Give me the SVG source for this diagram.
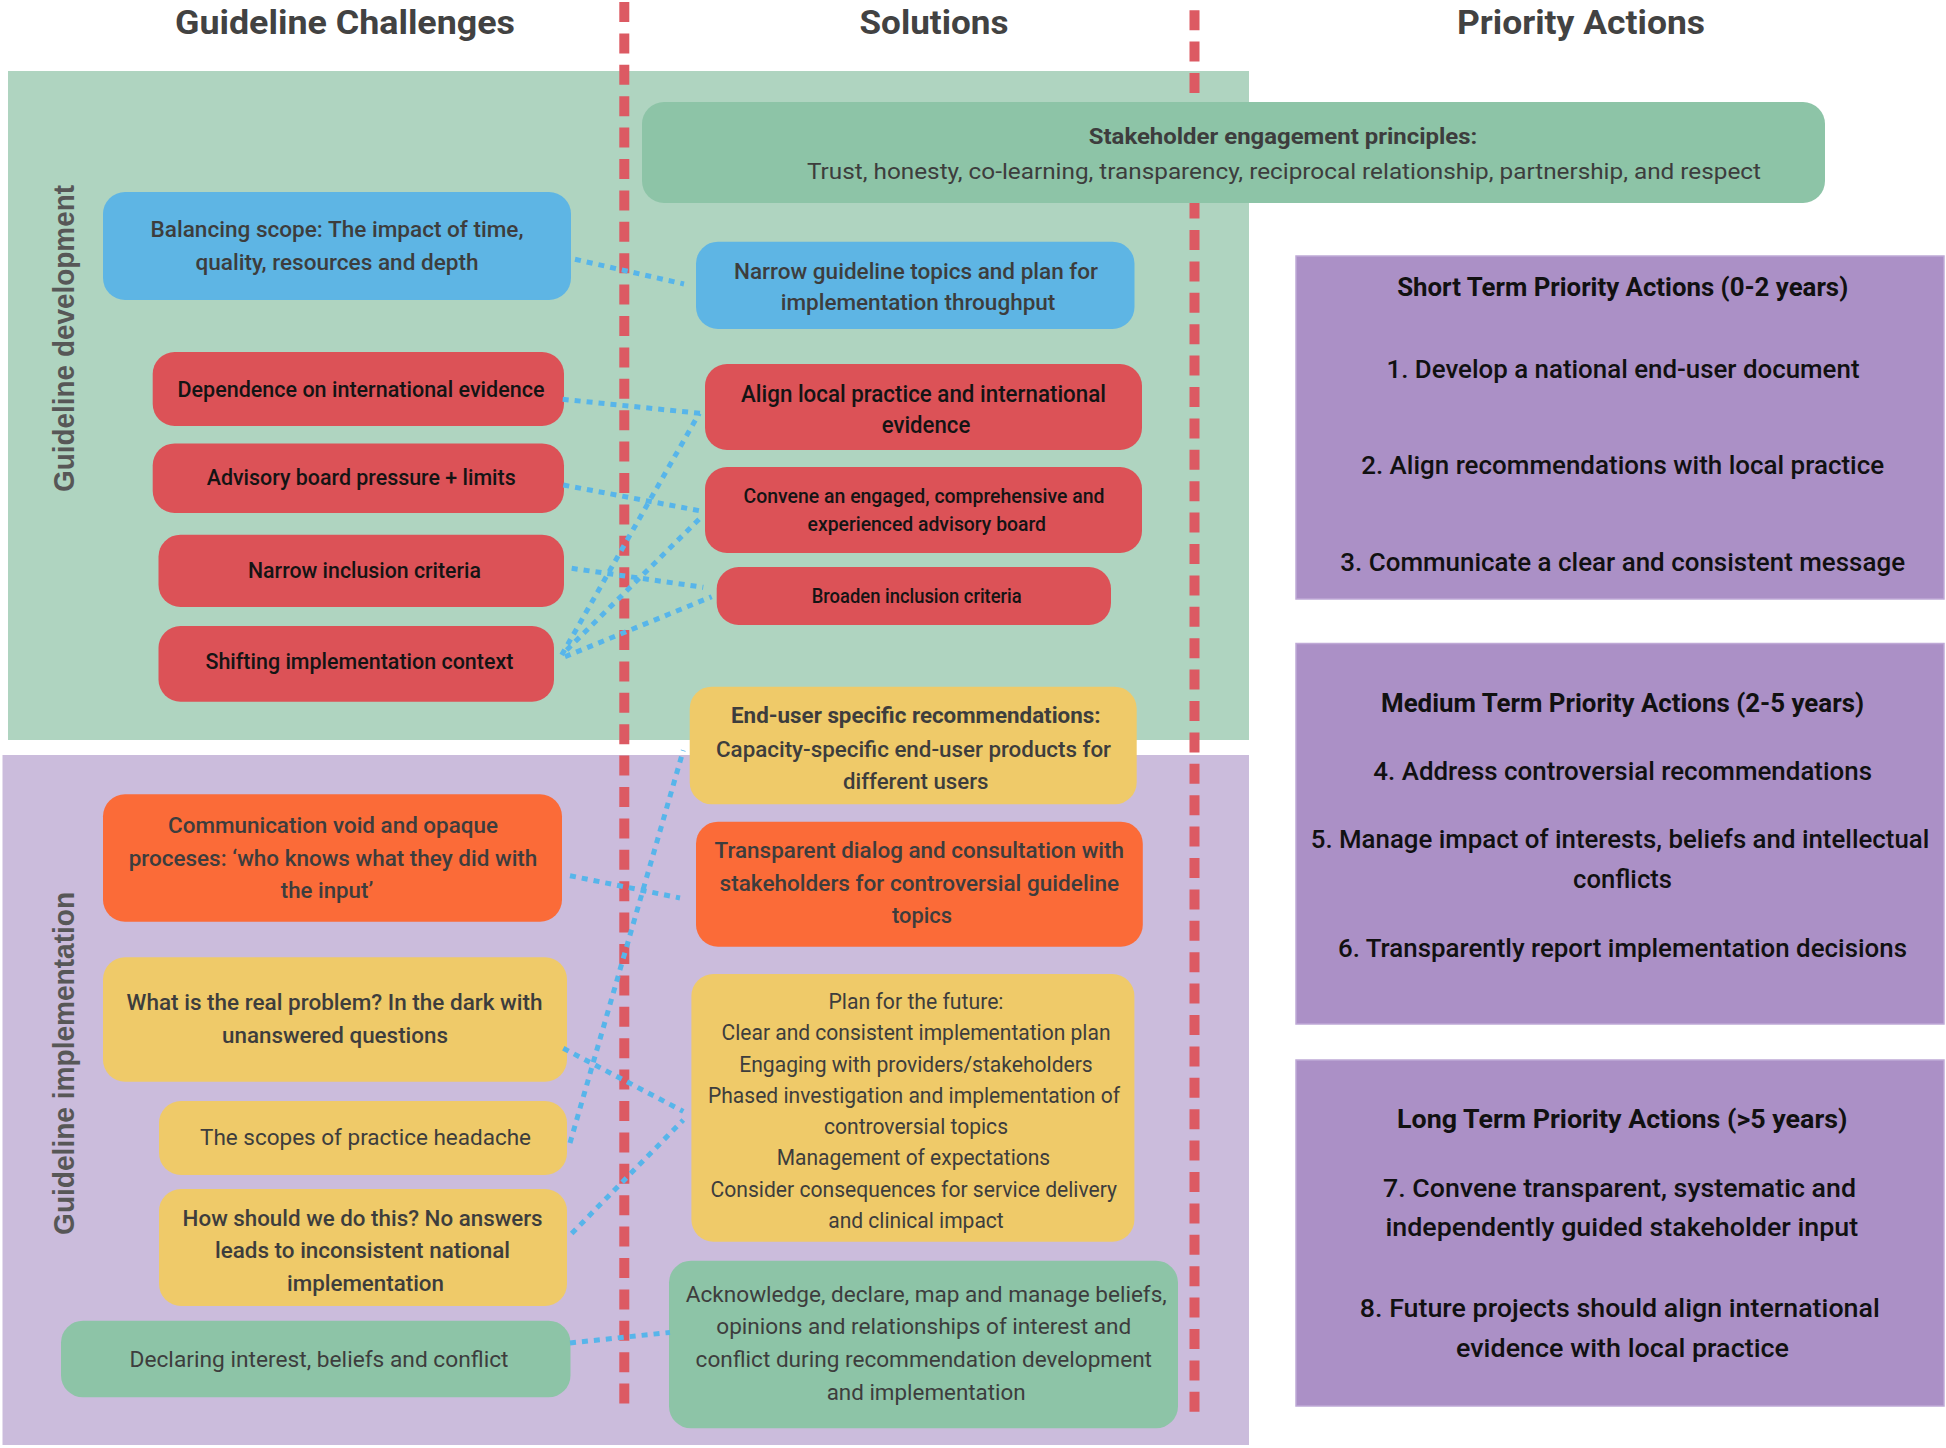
<svg xmlns="http://www.w3.org/2000/svg" width="1946" height="1448" viewBox="0 0 1946 1448">
<style>
  .hdr{font-family:Roboto,"Liberation Sans",sans-serif;font-weight:700;font-size:34px;fill:#424242;text-anchor:middle}
  .side{font-family:"Liberation Sans",Arial,sans-serif;font-weight:700;font-size:30px;fill:#575757;text-anchor:middle}
  .t{font-family:Roboto,"Liberation Sans",sans-serif;font-size:22.5px;font-weight:500;fill:#3d3d3d;text-anchor:middle}
  .k{fill:#141414}
  .r{font-weight:400}
  .b{font-weight:700}
  .p{font-size:26.5px;fill:#111}
  .pt{font-size:25.5px;font-weight:700;fill:#111}
  .blue{fill:#5eb5e4}
  .red{fill:#dc5257}
  .orange{fill:#fb6b38}
  .yellow{fill:#efca69}
  .green{fill:#8dc4a7}
  .prio{fill:#ab90c6;stroke:#bfa9d6;stroke-width:1.5}
  .divider{stroke:#dc5a63;stroke-width:10;stroke-dasharray:20 11.4;fill:none}
  .conn{fill:none;stroke:#57b5ea;stroke-width:5;stroke-dasharray:6 6}
</style>
<defs>
  <clipPath id="clipHow"><rect x="159" y="1189" width="408" height="115" rx="22"/></clipPath>
  <clipPath id="clipPlan"><rect x="691.4" y="974" width="443" height="265.5" rx="22"/></clipPath>
</defs>
<rect x="0" y="0" width="1946" height="1448" fill="#ffffff"/>

<g id="bands">
  <rect x="8" y="71" width="1241" height="669" fill="#afd4c0"/>
  <rect x="2.5" y="755" width="1246.5" height="690" fill="#cbbcdc"/>
</g>

<g id="headers">
  <text class="hdr" x="345" y="33.5" textLength="340" lengthAdjust="spacingAndGlyphs">Guideline Challenges</text>
  <text class="hdr" x="934" y="33.5" textLength="149" lengthAdjust="spacingAndGlyphs">Solutions</text>
  <text class="hdr" x="1581" y="33.5" textLength="248" lengthAdjust="spacingAndGlyphs">Priority Actions</text>
  <text class="side" transform="translate(74,338.5) rotate(-90)" textLength="307" lengthAdjust="spacingAndGlyphs">Guideline development</text>
  <text class="side" transform="translate(74,1063.4) rotate(-90)" textLength="343" lengthAdjust="spacingAndGlyphs">Guideline implementation</text>
</g>

<g id="dividers">
  <line class="divider" x1="624.3" y1="2" x2="624.3" y2="1404"/>
  <line class="divider" x1="1194.5" y1="10.2" x2="1194.5" y2="1412"/>
</g>

<g id="stakeholder">
  <rect class="green" x="642" y="102" width="1183" height="101" rx="22"/>
  <text class="t b" x="1283" y="143.5" textLength="388.5" lengthAdjust="spacingAndGlyphs">Stakeholder engagement principles:</text>
  <text class="t r" x="1284" y="178.5" textLength="954" lengthAdjust="spacingAndGlyphs">Trust, honesty, co-learning, transparency, reciprocal relationship, partnership, and respect</text>
</g>

<g id="balancing">
  <rect class="blue" x="103" y="192" width="468" height="108" rx="22"/>
  <text class="t" x="337" y="237" textLength="373" lengthAdjust="spacingAndGlyphs">Balancing scope: The impact of time,</text>
  <text class="t" x="337" y="269.5" textLength="283" lengthAdjust="spacingAndGlyphs">quality, resources and depth</text>
</g>
<g id="dependence">
  <rect class="red" x="152.7" y="352" width="411.3" height="74" rx="22"/>
  <text class="t k" x="361" y="397" textLength="367" lengthAdjust="spacingAndGlyphs">Dependence on international evidence</text>
</g>
<g id="advisory">
  <rect class="red" x="152.7" y="443.4" width="411.3" height="69.6" rx="22"/>
  <text class="t k" x="361.2" y="484.8" textLength="309" lengthAdjust="spacingAndGlyphs">Advisory board pressure + limits</text>
</g>
<g id="narrow-inclusion">
  <rect class="red" x="158.5" y="534.7" width="405.5" height="72.3" rx="22"/>
  <text class="t k" x="364.5" y="577.7" textLength="233" lengthAdjust="spacingAndGlyphs">Narrow inclusion criteria</text>
</g>
<g id="shifting">
  <rect class="red" x="158.5" y="626" width="395.5" height="75.7" rx="22"/>
  <text class="t k" x="359.4" y="669" textLength="308" lengthAdjust="spacingAndGlyphs">Shifting implementation context</text>
</g>

<g id="narrow-topics">
  <rect class="blue" x="696" y="241.7" width="438.5" height="87.3" rx="22"/>
  <text class="t" x="916" y="279.3" textLength="364" lengthAdjust="spacingAndGlyphs">Narrow guideline topics and plan for</text>
  <text class="t" x="918" y="310" textLength="274.7" lengthAdjust="spacingAndGlyphs">implementation throughput</text>
</g>
<g id="align">
  <rect class="red" x="705" y="364" width="437" height="86" rx="22"/>
  <text class="t k" x="923.5" y="401.7" textLength="365" lengthAdjust="spacingAndGlyphs" style="font-size:23.5px">Align local practice and international</text>
  <text class="t k" x="926" y="433" textLength="88.6" lengthAdjust="spacingAndGlyphs" style="font-size:23.5px">evidence</text>
</g>
<g id="convene">
  <rect class="red" x="705" y="467" width="437" height="86" rx="22"/>
  <text class="t k" x="924" y="503" textLength="361" lengthAdjust="spacingAndGlyphs" style="font-size:21px">Convene an engaged, comprehensive and</text>
  <text class="t k" x="926.8" y="531" textLength="238.4" lengthAdjust="spacingAndGlyphs" style="font-size:21px">experienced advisory board</text>
</g>
<g id="broaden">
  <rect class="red" x="716.7" y="567" width="394.3" height="58" rx="22"/>
  <text class="t k" x="916.7" y="603" textLength="210" lengthAdjust="spacingAndGlyphs" style="font-size:20.5px">Broaden inclusion criteria</text>
</g>

<g id="communication">
  <rect class="orange" x="103" y="794.3" width="459" height="127.4" rx="22"/>
  <text class="t" x="333" y="833.3" textLength="330" lengthAdjust="spacingAndGlyphs">Communication void and opaque</text>
  <text class="t" x="333" y="865.7" textLength="408.7" lengthAdjust="spacingAndGlyphs">proceses: ‘who knows what they did with</text>
  <text class="t" x="327" y="898.3" textLength="92.4" lengthAdjust="spacingAndGlyphs">the input’</text>
</g>
<g id="real-problem">
  <rect class="yellow" x="103" y="957.3" width="464" height="124.4" rx="22"/>
  <text class="t" x="334.6" y="1010" textLength="416" lengthAdjust="spacingAndGlyphs">What is the real problem? In the dark with</text>
  <text class="t" x="335" y="1042.7" textLength="226" lengthAdjust="spacingAndGlyphs">unanswered questions</text>
</g>
<g id="scopes">
  <rect class="yellow" x="159" y="1101" width="408" height="74" rx="22"/>
  <text class="t r" x="365.5" y="1145" textLength="331" lengthAdjust="spacingAndGlyphs">The scopes of practice headache</text>
</g>
<g id="how-should">
  <rect class="yellow" x="159" y="1189" width="408" height="117" rx="22"/>
  <g clip-path="url(#clipHow)">
    <text class="t" x="362.6" y="1226" textLength="360" lengthAdjust="spacingAndGlyphs">How should we do this? No answers</text>
    <text class="t" x="362.5" y="1258.3" textLength="295" lengthAdjust="spacingAndGlyphs">leads to inconsistent national</text>
    <text class="t" x="365.5" y="1290.5" textLength="157" lengthAdjust="spacingAndGlyphs">implementation</text>
  </g>
</g>
<g id="declaring">
  <rect class="green" x="61" y="1320.7" width="509.5" height="76.6" rx="22"/>
  <text class="t r" x="319" y="1366.7" textLength="379" lengthAdjust="spacingAndGlyphs">Declaring interest, beliefs and conflict</text>
</g>

<g id="end-user">
  <rect class="yellow" x="689.7" y="686.7" width="447" height="117.6" rx="22"/>
  <text class="t b" x="915.8" y="723.3" textLength="369.5" lengthAdjust="spacingAndGlyphs">End-user specific recommendations:</text>
  <text class="t" x="913.5" y="756.7" textLength="395" lengthAdjust="spacingAndGlyphs">Capacity-specific end-user products for</text>
  <text class="t" x="915.8" y="789.3" textLength="145.5" lengthAdjust="spacingAndGlyphs">different users</text>
</g>
<g id="transparent">
  <rect class="orange" x="696" y="821.7" width="446.8" height="125" rx="22"/>
  <text class="t" x="919.3" y="858.3" textLength="409.5" lengthAdjust="spacingAndGlyphs">Transparent dialog and consultation with</text>
  <text class="t" x="919.3" y="891" textLength="399.5" lengthAdjust="spacingAndGlyphs">stakeholders for controversial guideline</text>
  <text class="t" x="922" y="923.3" textLength="60" lengthAdjust="spacingAndGlyphs">topics</text>
</g>
<g id="plan">
  <rect class="yellow" x="691.4" y="974" width="443" height="267.7" rx="22"/>
  <g clip-path="url(#clipPlan)">
    <text class="t r" x="916" y="1009.3" textLength="175" lengthAdjust="spacingAndGlyphs">Plan for the future:</text>
    <text class="t r" x="916" y="1040" textLength="389" lengthAdjust="spacingAndGlyphs">Clear and consistent implementation plan</text>
    <text class="t r" x="916" y="1071.7" textLength="353.5" lengthAdjust="spacingAndGlyphs">Engaging with providers/stakeholders</text>
    <text class="t r" x="914" y="1103.3" textLength="412" lengthAdjust="spacingAndGlyphs">Phased investigation and implementation of</text>
    <text class="t r" x="916" y="1134" textLength="184" lengthAdjust="spacingAndGlyphs">controversial topics</text>
    <text class="t r" x="913.5" y="1165" textLength="273.4" lengthAdjust="spacingAndGlyphs">Management of expectations</text>
    <text class="t r" x="913.8" y="1196.7" textLength="406.6" lengthAdjust="spacingAndGlyphs">Consider consequences for service delivery</text>
    <text class="t r" x="916" y="1227.8" textLength="175.5" lengthAdjust="spacingAndGlyphs">and clinical impact</text>
  </g>
</g>
<g id="acknowledge">
  <rect class="green" x="669" y="1260.7" width="509" height="167.6" rx="22"/>
  <text class="t r" x="926.3" y="1301.7" textLength="481" lengthAdjust="spacingAndGlyphs">Acknowledge, declare, map and manage beliefs,</text>
  <text class="t r" x="923.8" y="1334.3" textLength="415" lengthAdjust="spacingAndGlyphs">opinions and relationships of interest and</text>
  <text class="t r" x="923.8" y="1367.3" textLength="456.4" lengthAdjust="spacingAndGlyphs">conflict during recommendation development</text>
  <text class="t r" x="926.2" y="1400" textLength="199" lengthAdjust="spacingAndGlyphs">and implementation</text>
</g>

<g id="short-term">
  <rect class="prio" x="1296" y="256" width="648" height="343"/>
  <text class="t pt" x="1622.7" y="296.4" textLength="451" lengthAdjust="spacingAndGlyphs">Short Term Priority Actions (0-2 years)</text>
  <text class="t p" x="1623" y="377.5" textLength="473" lengthAdjust="spacingAndGlyphs">1. Develop a national end-user document</text>
  <text class="t p" x="1622.7" y="473.5" textLength="523" lengthAdjust="spacingAndGlyphs">2. Align recommendations with local practice</text>
  <text class="t p" x="1622.7" y="571" textLength="564.7" lengthAdjust="spacingAndGlyphs">3. Communicate a clear and consistent message</text>
</g>
<g id="medium-term">
  <rect class="prio" x="1296" y="643.5" width="648" height="380.5"/>
  <text class="t pt" x="1622.5" y="711.7" textLength="483" lengthAdjust="spacingAndGlyphs">Medium Term Priority Actions (2-5 years)</text>
  <text class="t p" x="1622.7" y="780" textLength="498.7" lengthAdjust="spacingAndGlyphs">4. Address controversial recommendations</text>
  <text class="t p" x="1620" y="848.3" textLength="618.5" lengthAdjust="spacingAndGlyphs">5. Manage impact of interests, beliefs and intellectual</text>
  <text class="t p" x="1622.5" y="888.3" textLength="99" lengthAdjust="spacingAndGlyphs">conflicts</text>
  <text class="t p" x="1622.5" y="957.3" textLength="569" lengthAdjust="spacingAndGlyphs">6. Transparently report implementation decisions</text>
</g>
<g id="long-term">
  <rect class="prio" x="1296" y="1060" width="648" height="346"/>
  <text class="t pt" x="1622.3" y="1128.3" textLength="450.4" lengthAdjust="spacingAndGlyphs">Long Term Priority Actions (&gt;5 years)</text>
  <text class="t p" x="1619.5" y="1196.7" textLength="473" lengthAdjust="spacingAndGlyphs">7. Convene transparent, systematic and</text>
  <text class="t p" x="1621.8" y="1236" textLength="472.8" lengthAdjust="spacingAndGlyphs">independently guided stakeholder input</text>
  <text class="t p" x="1619.8" y="1316.7" textLength="520" lengthAdjust="spacingAndGlyphs">8. Future projects should align international</text>
  <text class="t p" x="1622.5" y="1356.7" textLength="333" lengthAdjust="spacingAndGlyphs">evidence with local practice</text>
</g>

<g id="connectors">
  <line class="conn" x1="575" y1="259.3" x2="684" y2="284"/>
  <line class="conn" x1="562.7" y1="399.3" x2="700" y2="413.3"/>
  <line class="conn" x1="563.3" y1="485" x2="699.3" y2="510.7"/>
  <line class="conn" x1="571.7" y1="568.3" x2="703.3" y2="587.3"/>
  <line class="conn" x1="561.7" y1="655" x2="699.3" y2="413.3"/>
  <line class="conn" x1="566.7" y1="650" x2="700" y2="518.3"/>
  <line class="conn" x1="565" y1="656.7" x2="711.7" y2="596.7"/>
  <line class="conn" x1="570" y1="875.7" x2="680" y2="898"/>
  <line class="conn" x1="570" y1="1143" x2="683.3" y2="750.3"/>
  <line class="conn" x1="563.3" y1="1048.3" x2="683.3" y2="1111.4"/>
  <line class="conn" x1="571.7" y1="1233.5" x2="683.3" y2="1120"/>
  <line class="conn" x1="570" y1="1342.9" x2="670" y2="1332.4"/>
</g>
</svg>
